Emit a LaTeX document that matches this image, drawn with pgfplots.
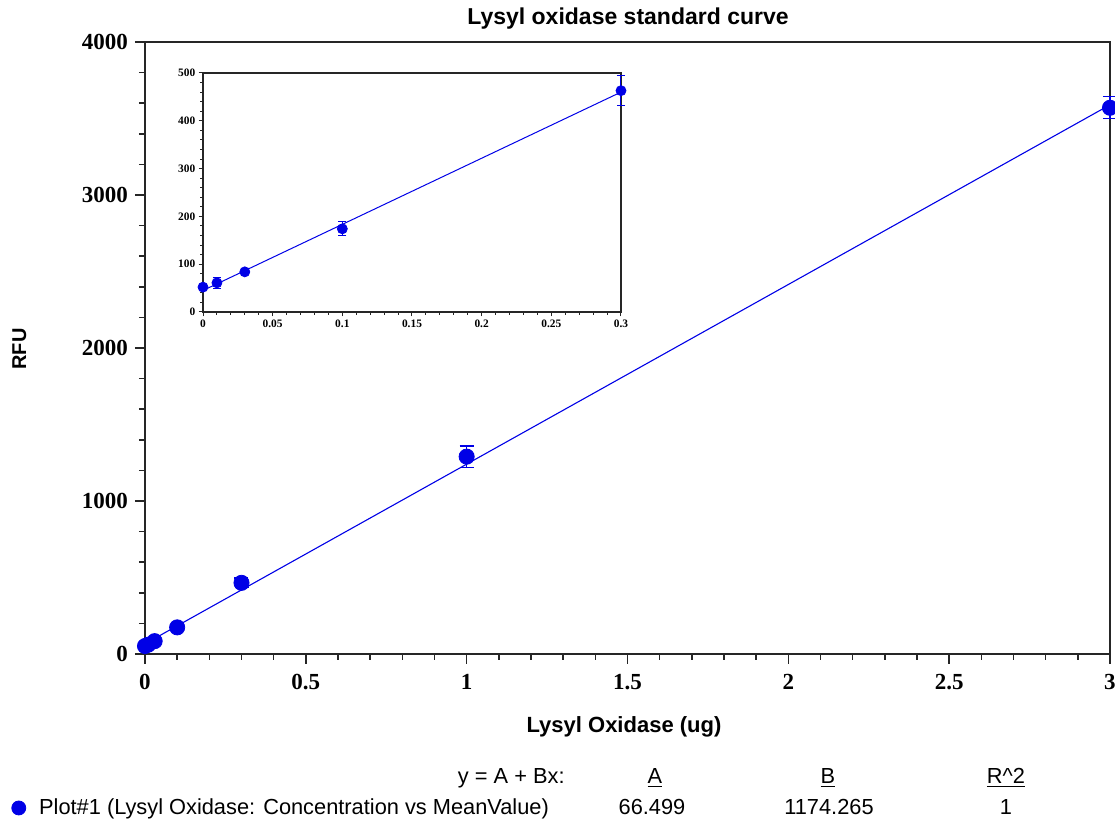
\documentclass[border=0pt]{standalone}
\usepackage{fontspec}
\setmainfont{Liberation Sans}
\newfontfamily\tnr{Liberation Serif}
\usepackage{pgfplots}
\pgfplotsset{compat=1.18}

\definecolor{plotblue}{RGB}{0,0,230}

\begin{document}
\begin{tikzpicture}
% picture frame: 1115 x 822 px, 1 px = 0.5pt
\useasboundingbox (0,0) rectangle (557.5pt,-411pt);

% main axis
\begin{axis}[
    at={(72.5pt,-327pt)}, anchor=south west,
    scale only axis,
    width=482.5pt, height=306pt,
    xmin=0, xmax=3, ymin=0, ymax=4000,
    xtick={0,0.5,1,1.5,2,2.5,3},
    ytick={0,1000,2000,3000,4000},
    minor x tick num=4, minor y tick num=4,
    tick align=outside,
    xtick pos=left, ytick pos=left,
    major tick length=5pt, minor tick length=3pt,
    axis line style={black!85, line width=1pt},
    every tick/.style={black!85, line width=0.8pt},
    tick label style={font=\tnr\bfseries\fontsize{11.5}{12}\selectfont},
    x tick label style={yshift=-1.5pt},
    /pgf/number format/assume math mode=true,
    /pgf/number format/1000 sep={},
    clip=false,
    legend style={draw=none, fill=none, inner sep=0pt,
        at={(axis description cs:-0.1389,-0.2516)}, anchor=west,
        font=\fontsize{10.9}{12}\selectfont},
    legend cell align=left,
    legend image code/.code={\fill[plotblue] (0pt,0pt) circle (3.5pt); \path (8pt,0pt);},
]
% linear fit y = 66.499 + 1174.265 x
\addplot[plotblue, line width=0.55pt, forget plot] coordinates {(0,66.499) (3,3589.294)};

\addplot[only marks, mark=*, mark size=3.8pt, color=plotblue,
    error bars/.cd, y dir=both, y explicit,
    error bar style={plotblue, line width=0.7pt},
    error mark options={rotate=90, mark size=3.5pt, plotblue, line width=0.7pt}]
coordinates {
    (0,52) +- (0,3)
    (0.01,61) +- (0,12)
    (0.03,84) +- (0,3)
    (0.1,174) +- (0,15)
    (0.3,465) +- (0,31)
    (1,1290) +- (0,70)
    (3,3570) +- (0,72)
};
\addlegendentry{Plot\#1 (Lysyl Oxidase: Concentration vs MeanValue)}
\end{axis}

% inset axis
\begin{axis}[
    at={(101.5pt,-156pt)}, anchor=south west,
    scale only axis,
    width=209pt, height=119.5pt,
    xmin=0, xmax=0.3, ymin=0, ymax=500,
    xtick={0,0.05,0.1,0.15,0.2,0.25,0.3},
    xticklabels={0,0.05,0.1,0.15,0.2,0.25,0.3},
    ytick={0,100,200,300,400,500},
    minor x tick num=4, minor y tick num=4,
    tick align=outside,
    xtick pos=left, ytick pos=left,
    major tick length=2.2pt, minor tick length=1.4pt,
    axis line style={black!85, line width=0.6pt},
    every tick/.style={black!85, line width=0.5pt},
    tick label style={font=\tnr\bfseries\fontsize{5.7}{6}\selectfont, inner sep=1.5pt},
    /pgf/number format/assume math mode=true,
    clip=false,
]
\addplot[plotblue, line width=0.5pt] coordinates {(0,45) (0.3,460)};

\addplot[only marks, mark=*, mark size=2.5pt, color=plotblue,
    error bars/.cd, y dir=both, y explicit,
    error bar style={plotblue, line width=0.5pt},
    error mark options={rotate=90, mark size=2pt, plotblue, line width=0.5pt}]
coordinates {
    (0,52) +- (0,3)
    (0.01,61) +- (0,12)
    (0.03,84) +- (0,3)
    (0.1,174) +- (0,15)
    (0.3,463) +- (0,31)
};
\end{axis}

% texts, placed in pixel units
\begin{scope}[x=0.5pt, y=-0.5pt]
\node[font=\bfseries\fontsize{11.5}{12}\selectfont, anchor=base] at (628,25) {Lysyl oxidase standard curve};
\node[font=\bfseries\fontsize{11}{12}\selectfont, anchor=base] at (624,733) {Lysyl Oxidase (ug)};
\node[font=\bfseries\fontsize{10}{12}\selectfont, anchor=base, rotate=90] at (26,349) {RFU};

\node[font=\fontsize{10.9}{12}\selectfont, anchor=base east, inner sep=0pt] at (565,784) {y = A + Bx:};
\node[font=\fontsize{10.9}{12}\selectfont, anchor=base, inner sep=0pt] at (655,784) {\underline{A}};
\node[font=\fontsize{10.9}{12}\selectfont, anchor=base, inner sep=0pt] at (828,784) {\underline{B}};
\node[font=\fontsize{10.9}{12}\selectfont, anchor=base, inner sep=0pt] at (1006,784) {\underline{R\textasciicircum 2}};

\node[font=\fontsize{10.9}{12}\selectfont, anchor=base, inner sep=0pt] at (652,815) {66.499};
\node[font=\fontsize{10.9}{12}\selectfont, anchor=base, inner sep=0pt] at (829,815) {1174.265};
\node[font=\fontsize{10.9}{12}\selectfont, anchor=base, inner sep=0pt] at (1006,815) {1};
\end{scope}
\end{tikzpicture}
\end{document}
